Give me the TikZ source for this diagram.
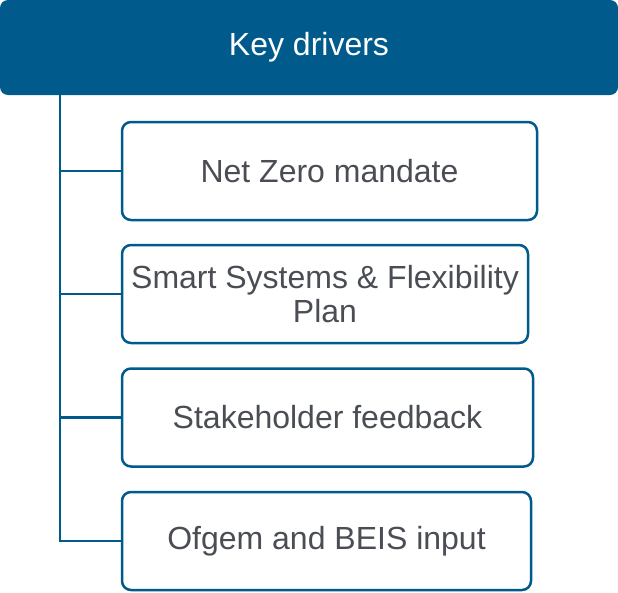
\documentclass[tikz,border=0pt]{standalone}
\usepackage{fontspec}
\setmainfont{Liberation Sans}
\usepackage{tikz}
\definecolor{kdblue}{HTML}{005A8C}
\definecolor{kdgrey}{HTML}{4A4E54}

\begin{document}
\begin{tikzpicture}[x=1pt, y=-1pt, thick,
    driver/.style={draw=kdblue, line width=2.5pt, rounded corners=9pt, fill=white,
        text=kdgrey, align=center, font=\fontsize{32}{34}\selectfont,
        minimum height=98pt, inner sep=0pt}]

\useasboundingbox (0,0) rectangle (618,592);

\draw
    node at(309,47.5)[fill=kdblue, rounded corners=8pt, minimum width=618pt, minimum height=95pt,
        text=white, font=\fontsize{32}{34}\selectfont, name=keyd]{Key drivers}

    node at(329.5,171)[driver, minimum width=415pt, name=netzero]{Net Zero mandate}
    node at(325,294)[driver, minimum width=406pt, name=ssfp]{Smart Systems \& Flexibility\\Plan}
    node at(327.5,417.5)[driver, minimum width=411pt, name=stake]{Stakeholder feedback}
    node at(326.5,541)[driver, minimum width=409pt, name=ofgem]{Ofgem and BEIS input}
;
    \coordinate (trunk) at (60,95);

    \draw[kdblue, line width=2.3pt](trunk) |- (netzero);
    \draw[kdblue, line width=2.3pt](trunk) |- (ssfp);
    \draw[kdblue, line width=2.3pt](trunk) |- (stake);
    \draw[kdblue, line width=2.3pt](trunk) |- (ofgem);

\end{tikzpicture}
\end{document}
